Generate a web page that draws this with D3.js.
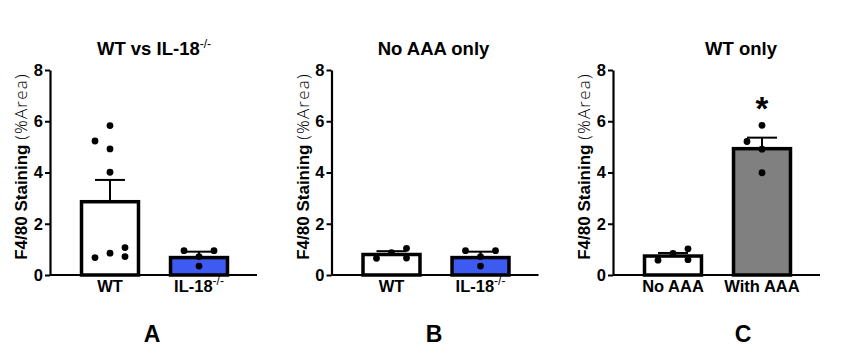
<!DOCTYPE html>
<html>
<head>
<meta charset="utf-8">
<script src="https://cdn.jsdelivr.net/npm/d3@7"></script>
<style>
  html, body { margin: 0; padding: 0; background: #ffffff; }
  svg { display: block; }
  text { font-family: "Liberation Sans", Arial, sans-serif; fill: #000; }
</style>
</head>
<body>
<svg id="chart" width="842" height="357"></svg>
<script>
// ---------- DATA ----------
const yTicks = [0, 2, 4, 6, 8];
const panelTitles = ["WT vs IL-18^-/-", "No AAA only", "WT only"];
const panelLetters = ["A", "B", "C"];
const yLabelMain = "F4/80 Staining ";
const yLabelUnit = "(%Area)";

const categoriesA = ["WT", "IL-18^-/-"];
const meansA = [2.86, 0.68];
const semsA = [0.85, 0.23];
const pointsA_WT = [0.85, 0.68, 0.72, 1.07, 4.01, 4.92, 5.23, 5.83];
const pointsA_IL18 = [0.72, 0.35, 0.95, 0.95];
const sigA = ["", ""];

const categoriesB = ["WT", "IL-18^-/-"];
const meansB = [0.80, 0.68];
const semsB = [0.13, 0.23];
const pointsB_WT = [0.87, 0.65, 0.66, 1.04];
const pointsB_IL18 = [0.72, 0.35, 0.95, 0.95];
const sigB = ["", ""];

const categoriesC = ["No AAA", "With AAA"];
const meansC = [0.74, 4.93];
const semsC = [0.12, 0.43];
const pointsC_NoAAA = [0.84, 0.58, 0.60, 1.02];
const pointsC_WithAAA = [3.99, 4.91, 5.21, 5.84];
const sigC = ["", "*"];

// ---------- LAYOUT / STYLE ----------
const panels = [
  { cats: categoriesA, means: meansA, sems: semsA, pts: [pointsA_WT, pointsA_IL18], sig: sigA,
    fills: ["#ffffff", "#3d5af1"], axisX: 50, titleX: 154, letterX: 152 },
  { cats: categoriesB, means: meansB, sems: semsB, pts: [pointsB_WT, pointsB_IL18], sig: sigB,
    fills: ["#ffffff", "#3d5af1"], axisX: 331.5, titleX: 433.5, letterX: 434 },
  { cats: categoriesC, means: meansC, sems: semsC, pts: [pointsC_NoAAA, pointsC_WithAAA], sig: sigC,
    fills: ["#ffffff", "#808080"], axisX: 613, titleX: 741, letterX: 743 }
];
const yTop = 70, yBottom = 275, axisLen = 207;
const titleY = 55, xLabelY = 292, letterY = 342;

const svg = d3.select("#chart");
const y = d3.scaleLinear().domain([0, 8]).range([yBottom, yTop]);

function addSupText(sel, label, size, supSize) {
  const parts = label.split("^");
  sel.append("tspan").text(parts[0]);
  if (parts[1]) {
    sel.append("tspan").attr("dy", -Math.round(size * 0.4)).attr("font-size", supSize)
      .attr("font-weight", "normal").text(parts[1]);
  }
}

function swarm(values, step, dmin) {
  const placed = [];
  values.forEach(v => {
    const py = y(v);
    for (let level = 0; level < 6; level++) {
      const cand = level === 0 ? [0] : [-level, level];
      const free = cand.filter(k => placed.every(p => Math.hypot((p.k - k) * step, p.y - py) >= dmin));
      if (free.length) {
        let k = free[0];
        if (free.length === 2) {
          const near = kk => {
            const m = d3.min(placed.filter(p => p.k === kk), p => Math.abs(p.y - py));
            return (m === undefined || m > 2 * dmin) ? Infinity : m;
          };
          k = near(level) < near(-level) ? level : -level;
        }
        placed.push({ v, y: py, k });
        break;
      }
    }
  });
  return placed;
}

panels.forEach((P, pi) => {
  const g = svg.append("g").attr("transform", `translate(${P.axisX},0)`);
  const x = d3.scaleBand().domain(P.cats).range([0, 209]).paddingInner(0.36).paddingOuter(0.354);

  // bars
  g.selectAll("rect.bar").data(P.cats).join("rect")
    .attr("x", d => x(d)).attr("width", x.bandwidth())
    .attr("y", (d, i) => y(P.means[i])).attr("height", (d, i) => y(0) - y(P.means[i]))
    .attr("fill", (d, i) => P.fills[i]).attr("stroke", "#000").attr("stroke-width", 3.5);

  // error bars (mean + SEM)
  P.cats.forEach((c, i) => {
    const cx = x(c) + x.bandwidth() / 2;
    const top = y(P.means[i] + P.sems[i]);
    g.append("line").attr("x1", cx).attr("x2", cx).attr("y1", y(P.means[i])).attr("y2", top)
      .attr("stroke", "#000").attr("stroke-width", 2);
    g.append("line").attr("x1", cx - 15).attr("x2", cx + 15).attr("y1", top).attr("y2", top)
      .attr("stroke", "#000").attr("stroke-width", 2);
  });

  // points
  P.cats.forEach((c, i) => {
    const cx = x(c) + x.bandwidth() / 2;
    const sw = swarm(P.pts[i], 15, 8.5);
    g.selectAll(null).data(sw).join("circle")
      .attr("cx", d => cx + d.k * 15).attr("cy", d => d.y).attr("r", 3.4).attr("fill", "#000");
    if (P.sig[i]) {
      g.append("text").attr("x", cx).attr("y", y(d3.max(P.pts[i])) - 5)
        .attr("text-anchor", "middle").attr("font-size", 33).attr("font-weight", "bold")
        .text(P.sig[i]);
    }
  });

  // y axis
  const ya = g.append("g").call(d3.axisLeft(y).tickValues(yTicks).tickSize(5).tickSizeOuter(0).tickPadding(2));
  ya.select(".domain").attr("stroke-width", 2.2);
  ya.selectAll(".tick line").attr("stroke-width", 2);
  ya.selectAll(".tick text").attr("font-size", 16.5).attr("font-weight", "bold")
    .attr("font-family", "Liberation Sans, Arial, sans-serif");

  // x axis
  const xa = g.append("g").attr("transform", `translate(0,${yBottom})`)
    .call(d3.axisBottom(x).tickSize(0).tickSizeOuter(0).tickFormat(""));
  xa.select(".domain").attr("stroke-width", 2.2).attr("d", `M0,0H${axisLen}`);

  // x labels
  P.cats.forEach(c => {
    const t = g.append("text").attr("x", x(c) + x.bandwidth() / 2).attr("y", xLabelY)
      .attr("text-anchor", "middle").attr("font-size", 16.5).attr("font-weight", "bold");
    addSupText(t, c, 16.5, 12);
  });

  // y label
  const yl = g.append("text").attr("transform", `translate(-23,${(yTop + yBottom) / 2 - 6}) rotate(-90)`)
    .attr("text-anchor", "middle").attr("font-size", 17);
  yl.append("tspan").attr("font-weight", "bold").text(yLabelMain);
  yl.append("tspan").attr("font-weight", 300).attr("font-family", "Open Sans, sans-serif")
    .attr("letter-spacing", 1.2).text(yLabelUnit);

  // title
  const tt = svg.append("text").attr("x", P.titleX).attr("y", titleY).attr("text-anchor", "middle")
    .attr("font-size", 18.5).attr("font-weight", "bold");
  addSupText(tt, panelTitles[pi], 18.5, 12);

  // panel letter
  svg.append("text").attr("x", P.letterX).attr("y", letterY).attr("text-anchor", "middle")
    .attr("font-size", 23).attr("font-weight", "bold").text(panelLetters[pi]);
});
</script>
</body>
</html>
